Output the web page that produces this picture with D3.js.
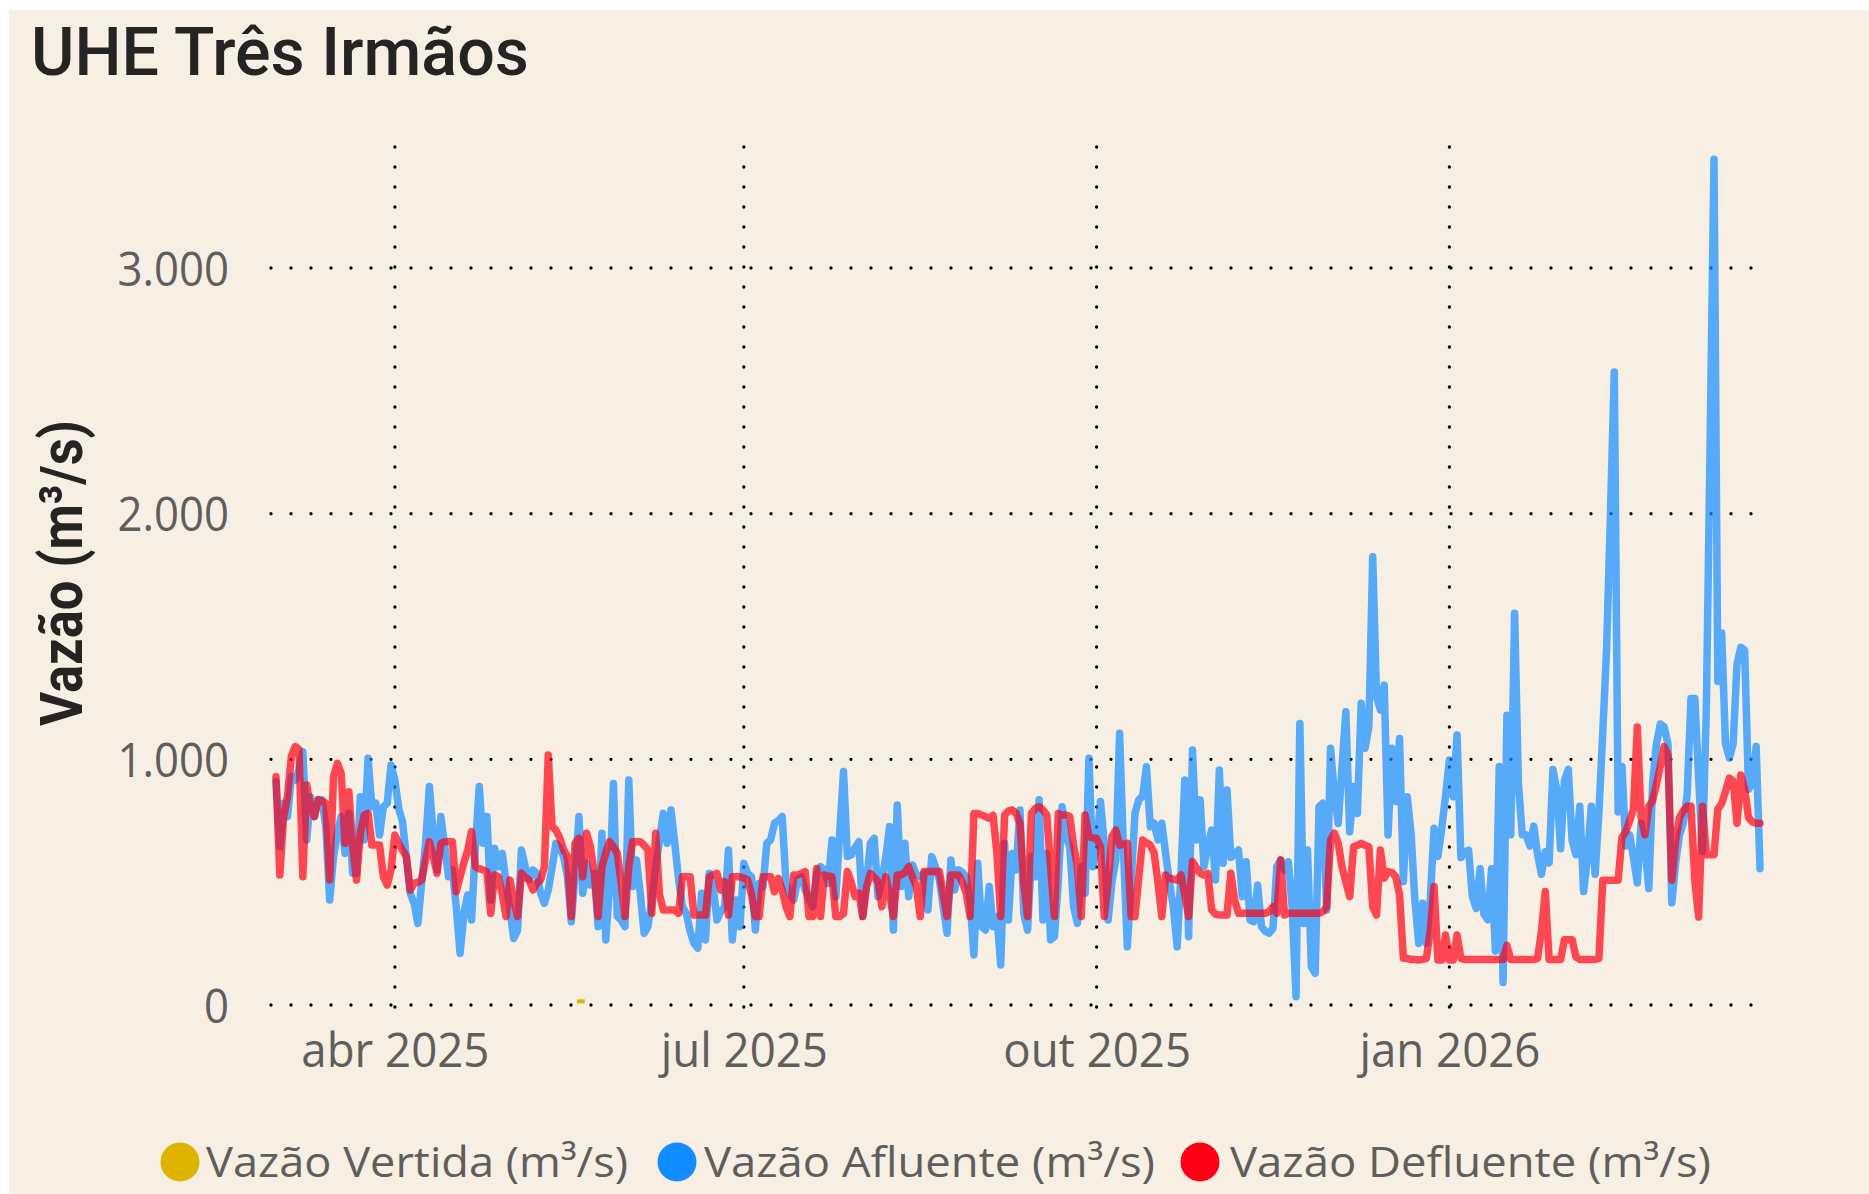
<!DOCTYPE html>
<html><head><meta charset="utf-8">
<script src="https://cdn.jsdelivr.net/npm/d3@7"></script>
<style>
html,body{margin:0;padding:0;background:#ffffff;}
svg{display:block;}
</style></head><body>
<svg id="chart" width="1869" height="1194"></svg>
<script>
// ---------- DATA ----------
const startDate = new Date(2025, 2, 1); // first daily value: 1 mar 2025

const afluente = [
909,644,821,767,930,916,960,1031,672,848,
767,835,835,726,427,604,700,767,617,780,
536,536,848,672,1004,807,821,692,807,821,
977,916,800,746,600,455,414,332,500,658,
889,699,550,767,644,522,550,400,210,373,
448,346,644,889,658,767,427,638,563,617,
500,387,271,305,631,563,509,550,536,455,
414,468,560,658,640,604,522,339,536,767,
455,577,489,536,319,699,265,482,902,360,
346,319,916,482,590,455,292,319,427,560,
672,780,658,794,658,509,400,373,300,251,
231,455,265,536,482,346,380,400,631,265,
427,319,577,536,522,305,495,482,658,672,
740,750,767,495,450,427,509,522,468,430,
400,536,563,550,495,672,441,700,950,604,
611,640,665,360,500,658,679,441,509,600,
726,305,814,482,658,441,570,530,522,536,
387,604,560,509,400,292,590,468,550,540,
522,427,204,577,319,305,482,319,360,163,
658,346,617,550,794,373,305,604,522,835,
346,617,265,278,500,807,685,644,400,332,
563,455,1004,563,644,828,658,346,500,590,
1106,631,237,495,780,835,850,970,726,740,
672,740,617,500,400,237,536,916,278,1038,
672,835,563,650,712,509,957,577,875,600,
617,631,441,583,346,339,488,319,300,292,
312,563,590,549,583,400,34,1146,332,631,
156,129,807,821,387,1045,862,739,970,1194,
705,889,780,1228,1045,1133,1825,1255,1201,1302,
692,1045,828,1085,502,848,699,427,251,414,
251,427,719,604,719,850,997,848,1099,600,
624,630,441,393,555,370,347,555,220,971,
92,1179,693,1595,901,693,693,647,728,612,
532,624,578,959,878,636,913,959,670,612,
809,462,601,809,532,786,1109,1450,2000,2577,
786,971,647,693,601,497,740,647,474,901,
1063,1144,1132,1063,416,578,693,740,855,1248,
1248,924,624,1200,2300,3443,1317,1514,1063,1005,
1063,1387,1456,1444,878,901,1052,555
];

const defluente = [
929,529,767,850,1011,1052,1040,522,896,807,
767,835,830,821,509,929,984,943,658,868,
644,509,699,773,780,651,651,651,522,488,
550,692,658,630,604,468,495,500,509,590,
665,604,536,658,665,665,665,461,522,580,
631,706,563,555,550,543,373,529,522,450,
360,509,427,360,536,520,509,468,495,509,
563,1018,726,712,680,631,604,360,658,679,
522,699,644,536,360,563,620,665,644,617,
500,360,563,665,665,665,650,631,373,699,
450,387,387,387,387,373,522,522,522,366,
366,366,366,522,530,536,468,502,366,522,
522,522,516,509,450,360,360,522,522,522,
461,516,468,400,360,529,529,535,543,360,
360,556,360,529,525,522,360,360,373,543,
500,441,455,360,480,536,520,502,400,522,
450,360,529,529,540,563,520,482,360,543,
543,543,543,543,450,360,529,529,529,500,
455,360,780,780,773,767,760,773,617,360,
773,790,794,780,740,500,360,780,800,807,
794,773,563,360,780,773,773,767,650,563,
360,773,685,680,679,644,360,500,685,712,
651,655,658,360,360,520,672,660,651,617,
500,360,529,516,512,509,529,450,360,584,
560,536,529,536,387,370,366,366,366,536,
427,373,373,373,373,373,373,373,373,380,
400,373,590,366,373,373,373,373,373,373,
373,373,373,380,400,672,699,658,563,500,
441,644,650,658,650,644,400,366,631,516,
543,540,522,450,190,190,185,185,183,185,
190,300,482,183,183,285,183,183,285,190,
185,185,185,185,185,185,185,185,185,185,
185,243,185,185,185,185,185,185,185,190,
300,462,185,185,185,185,266,266,266,196,
185,185,185,185,185,190,508,508,508,508,
508,682,705,750,797,1132,763,693,809,832,
900,971,1052,1017,508,670,763,790,809,809,
508,358,809,612,612,612,797,820,870,924,
913,740,936,878,763,745,740,740
];

const vertidaDays = [79, 80];
const vertidaValues = [15, 15];

const yTicks = [0, 1000, 2000, 3000];
const xTicks = [new Date(2025, 3, 1), new Date(2025, 6, 1), new Date(2025, 9, 1), new Date(2026, 0, 1)];
const seriesNames = ["Vazão Vertida (m³/s)", "Vazão Afluente (m³/s)", "Vazão Defluente (m³/s)"];
const seriesColors = ["#DEB400", "#118DFF", "#FF0016"];
const titleText = "UHE Três Irmãos";
const yTitleText = "Vazão (m³/s)";

// ---------- CHART ----------
const svg = d3.select("#chart");
const W = 1869, H = 1194;

svg.append("rect").attr("x", 9).attr("y", 10).attr("width", W - 9).attr("height", H - 10)
  .attr("fill", "#F7EFE4");

const numLocale = d3.formatLocale({decimal: ",", thousands: ".", grouping: [3], currency: ["R$", ""]});
const fmtNum = numLocale.format(",.0f");
const timeLocale = d3.timeFormatLocale({
  dateTime: "%A, %e de %B de %Y. %X", date: "%d/%m/%Y", time: "%H:%M:%S",
  periods: ["AM", "PM"],
  days: ["Domingo","Segunda","Terça","Quarta","Quinta","Sexta","Sábado"],
  shortDays: ["Dom","Seg","Ter","Qua","Qui","Sex","Sáb"],
  months: ["Janeiro","Fevereiro","Março","Abril","Maio","Junho","Julho","Agosto","Setembro","Outubro","Novembro","Dezembro"],
  shortMonths: ["jan","fev","mar","abr","mai","jun","jul","ago","set","out","nov","dez"]
});
const fmtDate = timeLocale.format("%b %Y");

const nDays = afluente.length;
const dayDate = i => d3.timeDay.offset(startDate, i);
const x = d3.scaleTime().domain([startDate, dayDate(nDays - 1)]).range([276, 1760]);
const y = d3.scaleLinear().domain([0, 3000]).range([1005, 268]);

const plotLeft = 271, plotRight = 1762, plotTop = 147, plotBottom = 1007;

// grid (dotted)
const grid = svg.append("g");
grid.selectAll("line.h").data(yTicks).join("line")
  .attr("x1", plotLeft).attr("x2", plotRight)
  .attr("y1", d => y(d)).attr("y2", d => y(d))
  .attr("stroke", "#000").attr("stroke-width", 3.3)
  .attr("stroke-linecap", "round").attr("stroke-dasharray", "0 20");
grid.selectAll("line.v").data(xTicks).join("line")
  .attr("x1", d => x(d)).attr("x2", d => x(d))
  .attr("y1", plotBottom).attr("y2", plotTop)
  .attr("stroke", "#000").attr("stroke-width", 3.3)
  .attr("stroke-linecap", "round").attr("stroke-dasharray", "0 20");

// y axis labels
const yAxis = d3.axisLeft(y).tickValues(yTicks).tickFormat(fmtNum).tickSize(0).tickPadding(0);
const gy = svg.append("g").attr("transform", "translate(229,0)").call(yAxis);
gy.select(".domain").remove();
gy.selectAll("text")
  .attr("font-family", "'Open Sans', 'Noto Sans', sans-serif")
  .attr("font-size", 48).attr("fill", "#605E5C")
  .attr("dy", "0.355em").attr("x", 0);

// x axis labels
const xAxis = d3.axisBottom(x).tickValues(xTicks).tickFormat(fmtDate).tickSize(0).tickPadding(0);
const gx = svg.append("g").attr("transform", "translate(0,1067)").call(xAxis);
gx.select(".domain").remove();
gx.selectAll("text")
  .attr("font-family", "'Open Sans', 'Noto Sans', sans-serif")
  .attr("font-size", 48).attr("fill", "#605E5C")
  .attr("dy", 0).attr("y", 0);

// condense tick labels slightly to match the narrower original face
gy.selectAll("text").each(function () {
  const L = this.getComputedTextLength();
  d3.select(this).attr("textLength", L * 0.91).attr("lengthAdjust", "spacingAndGlyphs");
});
gx.selectAll("text").each(function () {
  const L = this.getComputedTextLength();
  d3.select(this).attr("textLength", L * 0.95).attr("lengthAdjust", "spacingAndGlyphs");
});

// lines
const line = d3.line()
  .defined(d => d.v != null)
  .x(d => x(d.date)).y(d => y(d.v));

const vertidaPts = vertidaDays.map((d, i) => ({date: dayDate(d), v: vertidaValues[i]}));
const afluentePts = afluente.map((v, i) => ({date: dayDate(i), v}));
const defluentePts = defluente.map((v, i) => ({date: dayDate(i), v}));

svg.append("path").datum(vertidaPts).attr("d", line)
  .attr("fill", "none").attr("stroke", seriesColors[0]).attr("stroke-width", 4)
  .attr("stroke-linecap", "square");
svg.append("path").datum(afluentePts).attr("d", line)
  .attr("fill", "none").attr("stroke", seriesColors[1]).attr("stroke-opacity", 0.7)
  .attr("stroke-width", 7.5).attr("stroke-linejoin", "round").attr("stroke-linecap", "round");
svg.append("path").datum(defluentePts).attr("d", line)
  .attr("fill", "none").attr("stroke", seriesColors[2]).attr("stroke-opacity", 0.7)
  .attr("stroke-width", 7.5).attr("stroke-linejoin", "round").attr("stroke-linecap", "round");

// title
svg.append("text").attr("x", 31).attr("y", 75)
  .attr("font-family", "Roboto, 'Open Sans', sans-serif").attr("font-weight", 500)
  .attr("font-size", 66).attr("fill", "#252423")
  .attr("textLength", 498).attr("lengthAdjust", "spacingAndGlyphs")
  .text(titleText);

// y title
svg.append("text").attr("transform", "translate(82,573) rotate(-90)")
  .attr("text-anchor", "middle")
  .attr("font-family", "Roboto, 'Open Sans', sans-serif").attr("font-weight", 700)
  .attr("font-size", 60).attr("fill", "#252423")
  .attr("textLength", 306).attr("lengthAdjust", "spacingAndGlyphs")
  .text(yTitleText);

// legend
const legendCx = [180, 677, 1200];
const legendTx = [206, 704, 1230];
const legendW = [422, 451, 481];
const lg = svg.append("g");
seriesNames.forEach((name, i) => {
  lg.append("circle").attr("cx", legendCx[i]).attr("cy", 1162).attr("r", 19.5)
    .attr("fill", seriesColors[i]);
  lg.append("text").attr("x", legendTx[i]).attr("y", 1177)
    .attr("font-family", "'Open Sans', 'Noto Sans', sans-serif")
    .attr("font-size", 42).attr("fill", "#605E5C")
    .attr("textLength", legendW[i]).attr("lengthAdjust", "spacingAndGlyphs")
    .text(name);
});
</script>
</body></html>
